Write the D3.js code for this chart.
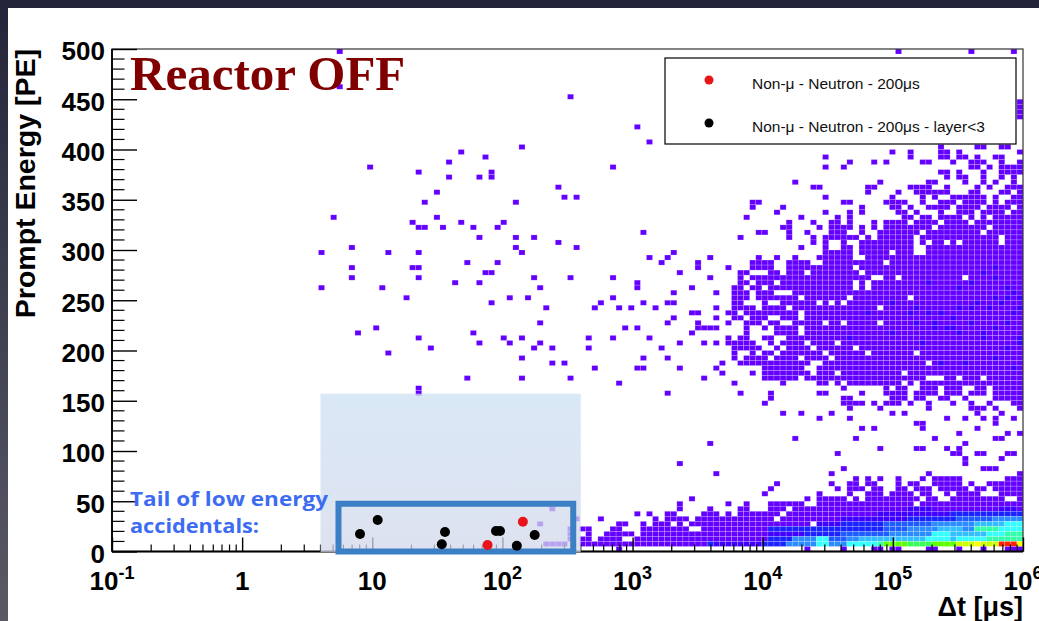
<!DOCTYPE html>
<html>
<head>
<meta charset="utf-8">
<script src="https://cdn.jsdelivr.net/npm/d3@7"></script>
<style>
  body { margin: 0; background: #2a2b3b; overflow: hidden; }
  svg { display: block; }
</style>
</head>
<body>
<svg id="chart"></svg>
<script>
// histogram binning (log10 of dt in us, prompt energy in PE)
const xLogMin = -1, xLogMax = 6, xBinCount = 150;
const yMin = 0, yMax = 500, yBinCount = 100;

// colour levels of the 2D histogram (ROOT rainbow palette)
const palette = ["#6400ff", "#3f00ff", "#1a22ff", "#1f5cff", "#2b8cff", "#33bfff", "#33ffff",
  "#33ffaa", "#33ff55", "#5cff00", "#99ff00", "#ccff00", "#ffff00", "#ff9900", "#ff2200"];

// isolated cells left of 10^2.4 us: [xBin, yBin]
const sparseCells = [
  [37,99],[37,92],[67,80],[57,79],[61,78],[55,77],[42,76],[50,75],[62,75],[55,74],[60,74],[62,74],
  [53,71],[51,69],[66,69],[36,66],[53,66],[49,65],[57,65],[64,65],[50,64],[51,64],[54,64],[59,64],
  [63,64],[60,62],[66,62],[69,62],[39,60],[66,60],[34,59],[45,59],[50,59],[67,59],[58,57],[63,57],
  [39,56],[49,56],[50,56],[61,55],[62,55],[39,54],[50,54],[69,54],[56,53],[60,53],[34,52],[44,52],
  [70,52],[48,50],[65,50],[68,50],[62,49],[71,48],[70,45],[43,44],[40,43],[59,43],[50,42],[64,42],
  [67,42],[60,41],[65,41],[70,41],[52,40],[69,40],[45,39],[67,38],[58,34],[67,34],[50,32],[50,31],
  [70,5],[71,1]
];

// filled columns per y bin, counted from xBin 72; "a-b:L" = run with colour level L
const denseStart = 72;
const denseRows = [
  [99, "57 69 76"],
  [90, "3"],
  [89, "77"], [88, "77"], [87, "77"], [86, "77"],
  [84, "14"],
  [81, "16"],
  [80, "64 70-71 74-75"],
  [79, "56 59 64-65 67 77"],
  [78, "45 59 64-65 67-68 70 73-74"],
  [77, "49 53 55 61-62 66 69-71 74 77"],
  [76, "10 45 48 69-70 72 74-77"],
  [75, "64-65 67 71 74-77"],
  [74, "65 67-68 71 74 76"],
  [73, "40 54 62-63 68 71 73 76"],
  [72, "1 43-44 52-53 59-62 65 70 72 75-77"],
  [71, "52 57 60-65 69-70 74-75 77"],
  [70, "2 4 45 56 61 63 66-71 73 76-77"],
  [69, "33-34 48-49 55-58 61 64-66 68-71 73 75-77"],
  [68, "33 38 51 56-57 59 62-65 67-70 72-75 77"],
  [67, "37 45 49 51 57-58 60 64 67-69 71-74 76-77"],
  [66, "32 41 47 49 58-59 61-62 64-67 69 71 73-77"],
  [65, "39 43 46-47 49 53 55-58 60-63 65-68 70-77"],
  [64, "38-39 44 46-49 51 53 55-62 64-71 73-77"],
  [63, "15 34-35 39 42 46-48 51 54-60 62-70 72-77"],
  [62, "31 39 43 45-50 52 54-59 61-73 75-77"],
  [61, "1 43 45 48 51-59 61 63-64 66 68-73 75-77"],
  [60, "4 41 45 48-49 51-59 62-77"],
  [59, "20 45-49 51-55 57-59 62-77"],
  [58, "16 19 26 34 37 40 44-49 52-77"],
  [57, "18 24 33-36 39-42 45-54 56-77"],
  [56, "24 29 33-36 39-49 51-72 73:2 74-77"],
  [55, "21 31-32 36-37 39-41 43-50 52-70 71:2 72-77"],
  [54, "3 10 26 31 33-52 55-56 58-67 69-72 73:2 74-77"],
  [53, "14 31-32 34-36 38-49 51 53-61 62:2 63-68 69:2 70-77"],
  [52, "14 23 30-31 33-34 36-49 51 53-66 67:2 68-74 75:2 76-77"],
  [51, "20 27 30-32 34-36 40-75 76:2 77"],
  [50, "10 30-32 34-40 42-48 50-58 60-72 73:2 74 75:2 76 77:2"],
  [49, "8 15 19-20 30-31 35 38-43 45 47 49-55 56:2 57-69 70:2 71-73 74:2 75-77"],
  [48, "7 11 13 17 27 30-33 35-38 40-53 55-59 60:2 61-66 67:2 68 69:2 70-71 72:2 73-76 77:2"],
  [47, "23-24 29-30 32-40 42-51 52:2 53-58 59:2 60-61 62:2 63 64:2 65-75 76:2 77"],
  [46, "20 27 30-31 33-35 38-40 42-65 66:2 67-77"],
  [45, "19 24 29 32-34 36-37 40-44 46-47 49-53 55-59 60:2 61-62 63:2 64-68 69:2 70-74 75:2 76-77"],
  [44, "12 14 24-27 32 35 37-40 42-62 63:2 64 65-66:2 67-72 73:2 74-77"],
  [43, "23 32 37-40 42-55 56:2 57-66 67:2 68-70 71:2 72-77"],
  [42, "6 10 16 29 31-32 35-36 39-48 49:2 50-70 71:2 72-76 77:2"],
  [41, "21 25 27 29-33 36 38-41 43-46 48-60 61:2 62-76 77:2"],
  [40, "0 6 18 30-34 37 39-42 44-49 51-74 75:2 76-77"],
  [39, "30 33 35-36 38-44 46-51 53-59 61-77"],
  [38, "15 19 30 32-35 37-40 42-45 47-72 73:2 74-77"],
  [37, "0 2 28 31-42 45-61 63 64:2 65-67 68:2 69-77"],
  [36, "7 14-15 21 27 35-41 44-75 76:2 77"],
  [35, "28 33 35-42 44-46 48-57 59-77"],
  [34, "3 25 35-40 42-61 65-66 68-70 72-77"],
  [33, "11 30 38 44-45 47 49-57 59 61-77"],
  [32, "48 55 57-58 61-63 65-67 70-71 73-77"],
  [31, "19 31 36 44-45 51 55-58 60-63 65-67 69-71 73-77"],
  [30, "36 48-49 56-58 60-61 64-65 68 73-77"],
  [29, "35 48-51 53 55-57 59 62 66 69 72 76-77"],
  [28, "49 54 62 69-71 73 77"],
  [27, "38 41 46 56 58 70 74"],
  [26, "44 49 65 68 71 73 76"],
  [25, "60-61 73"],
  [24, "51 53 61 70"],
  [23, "67 75 77"],
  [22, "40 50 63 73-74"],
  [21, "26 68"],
  [20, "54 60-61 65 67"],
  [19, "47 66-67 70-71 75-76"],
  [18, "68 74"],
  [17, "21 68"],
  [16, "48 71-73"],
  [15, "27 46 62 77"],
  [14, "50 52 54 57 61 63-67 75-77"],
  [13, "37 46 49-50 52-53 57 59-60 63-67 69 72-77"],
  [12, "36 47 49-51 53-54 57-58 60-62 64-68 70-71 73-77"],
  [11, "35 44 49 52-54 56-59 61-62 65 67-70 74-77"],
  [10, "23 42 44-48 50 52-60 62-63 66-74 77"],
  [9, "21 29 32 36-41 44-59 61-77"],
  [8, "0 21 26 31-32 36-38 40-58 59-62:2 63-73 74-76:2 77"],
  [7, "14 16 19-20 25-27 29 31-37 39-53 54-65:2 66-77:3"],
  [6, "4 8 17 19-22 24-36 38-47 48-58:2 59-66:3 67-72:4 73-77:5"],
  [5, "11-12 15 17-19 21 23-42 44-47:2 48-54:3 55-62:4 63-69:5 70-74:6 75-77:7"],
  [4, "3 5-6 10-11 15-22 25-35 36-54:3 55-58:4 59-63:5 64-67:6 68-69:5 70-73:8 74-77:7"],
  [3, "3 6 9-13 15-35 36-41:2 42-47:3 48-55:4 56-62:5 63-65:7 66-71:6 72-74:7 75-77:8"],
  [2, "3 5-6 8-11 14-35 36-39:3 40-43:5 44-45:7 46-48:4 49-50:5 51-61:6 62-65:7 66:6 67-71:7 72-77:8"],
  [1, "0-2 5-25 26:3 27-34:2 35-38:3 39-43:5 44-45:7 46-48:5 49-53:7 54:8 55-58:10 59-62:9 63-66:10 67-69:12 70:13 71-73:12 74-76:15 77:13"],
  [0, "11 42 48 53-54 56-57 62-63 67 71 75-77"]
];

// candidate events (dt in us, prompt energy in PE)
const redT = [76.9, 143.6];
const redE = [6.5, 29.6];
const blackT = [8.05, 11.0, 34.2, 36.2, 89.3, 95.8, 129, 177];
const blackE = [17.4, 31.3, 7.2, 19.4, 20.4, 20.4, 5.8, 16.4];

const yTicks = d3.range(0, 501, 50);
const yMinorTicks = d3.range(0, 501, 10).filter(v => v % 50 !== 0);
const xDecades = [-1, 0, 1, 2, 3, 4, 5, 6];
const legendLabels = ["Non-\u03bc - Neutron - 200\u03bcs", "Non-\u03bc - Neutron - 200\u03bcs - layer<3"];
const noteLines = ["Tail of low energy", "accidentals:"];

const width = 1039, height = 621;
const plot = { left: 112, right: 1023, top: 49, bottom: 551.5 };
const sans = "'Liberation Sans', Arial, sans-serif";

const svg = d3.select("#chart").attr("width", width).attr("height", height);

const defs = svg.append("defs");
const bgGrad = defs.append("linearGradient").attr("id", "bg").attr("x1", 0).attr("y1", 0).attr("x2", 0).attr("y2", 1);
bgGrad.append("stop").attr("offset", "0%").attr("stop-color", "#24253a");
bgGrad.append("stop").attr("offset", "100%").attr("stop-color", "#5a5a66");
const boxGrad = defs.append("linearGradient").attr("id", "boxfill").attr("x1", 0).attr("y1", 0).attr("x2", 0).attr("y2", 1);
boxGrad.append("stop").attr("offset", "0%").attr("stop-color", "#cde1f3");
boxGrad.append("stop").attr("offset", "100%").attr("stop-color", "#d3d8ea");

svg.append("rect").attr("width", width).attr("height", height).attr("fill", "url(#bg)");
svg.append("rect").attr("x", 8).attr("y", 8).attr("width", width - 8).attr("height", height - 8).attr("fill", "#fff");

const x = d3.scaleLog().domain([10 ** xLogMin, 10 ** xLogMax]).range([plot.left, plot.right]);
const y = d3.scaleLinear().domain([yMin, yMax]).range([plot.bottom, plot.top]);

const binLo = i => 10 ** (xLogMin + i * (xLogMax - xLogMin) / xBinCount);
const eLo = j => yMin + j * (yMax - yMin) / yBinCount;

let cells = sparseCells.map(([i, j]) => ({ i, j, level: 1 }));
denseRows.forEach(([j, spec]) => {
  spec.split(" ").filter(Boolean).forEach(tok => {
    const [range, lv] = tok.split(":");
    const [a, b] = range.split("-").map(Number);
    const end = b === undefined ? a : b;
    for (let c = a; c <= end; c++) cells.push({ i: denseStart + c, j, level: lv ? +lv : 1 });
  });
});

svg.append("g")
  .selectAll("rect")
  .data(cells)
  .join("rect")
  .attr("x", d => x(binLo(d.i)))
  .attr("y", d => y(eLo(d.j + 1)))
  .attr("width", d => x(binLo(d.i + 1)) - x(binLo(d.i)))
  .attr("height", d => y(eLo(d.j)) - y(eLo(d.j + 1)))
  .attr("fill", d => palette[d.level - 1])
  .attr("stroke", "rgba(255,255,255,0.3)")
  .attr("stroke-width", 0.6);

// frame
svg.append("rect")
  .attr("x", plot.left).attr("y", plot.top)
  .attr("width", plot.right - plot.left).attr("height", plot.bottom - plot.top)
  .attr("fill", "none").attr("stroke", "#333").attr("stroke-width", 1.2);

// y axis
const yAxis = d3.axisLeft(y).tickValues(yTicks).tickSizeInner(-25).tickSizeOuter(0).tickPadding(7);
svg.append("g")
  .attr("transform", `translate(${plot.left},0)`)
  .call(yAxis)
  .attr("font-family", sans).attr("font-size", 26).attr("font-weight", "bold")
  .call(g => g.select(".domain").remove())
  .call(g => g.selectAll("line").attr("stroke", "#000").attr("stroke-width", 1.4))
  .call(g => g.selectAll("text").attr("fill", "#000").attr("dy", "0.42em"));
svg.append("g")
  .selectAll("line")
  .data(yMinorTicks)
  .join("line")
  .attr("x1", plot.left).attr("x2", plot.left + 12.5)
  .attr("y1", d => y(d)).attr("y2", d => y(d))
  .attr("stroke", "#000").attr("stroke-width", 1.2);

// x axis
const xMinor = [];
xDecades.slice(0, -1).forEach(k => { for (let m = 2; m <= 9; m++) xMinor.push(m * 10 ** k); });
svg.append("g")
  .attr("transform", `translate(0,${plot.bottom})`)
  .call(d3.axisBottom(x).tickValues(xDecades.map(k => 10 ** k)).tickSizeInner(-14).tickSizeOuter(0).tickFormat(() => ""))
  .call(g => g.select(".domain").remove())
  .call(g => g.selectAll("line").attr("stroke", "#000").attr("stroke-width", 1.4));
svg.append("g")
  .selectAll("line")
  .data(xMinor)
  .join("line")
  .attr("x1", d => x(d)).attr("x2", d => x(d))
  .attr("y1", plot.bottom).attr("y2", plot.bottom - 7)
  .attr("stroke", "#000").attr("stroke-width", 1.2);

svg.append("line")
  .attr("x1", plot.left).attr("x2", plot.right).attr("y1", plot.bottom).attr("y2", plot.bottom)
  .attr("stroke", "#000").attr("stroke-width", 1.8);
svg.append("line")
  .attr("x1", plot.left).attr("x2", plot.left).attr("y1", plot.top).attr("y2", plot.bottom)
  .attr("stroke", "#000").attr("stroke-width", 1.8);

const xLabels = svg.append("g")
  .attr("font-family", sans).attr("font-weight", "bold").attr("text-anchor", "middle")
  .selectAll("text")
  .data(xDecades)
  .join("text")
  .attr("x", d => x(10 ** d))
  .attr("y", 590)
  .attr("font-size", 26);
xLabels.append("tspan").text(d => (d === 0 ? "1" : "10"));
xLabels.filter(d => d !== 0 && d !== 1)
  .append("tspan").attr("dy", -11).attr("font-size", 18).text(d => d);

// axis titles
svg.append("text")
  .attr("transform", `translate(35,${plot.top}) rotate(-90)`)
  .attr("text-anchor", "end")
  .attr("font-family", sans).attr("font-weight", "bold").attr("font-size", 28.5)
  .text("Prompt Energy [PE]");
svg.append("text")
  .attr("x", plot.right).attr("y", 616)
  .attr("text-anchor", "end")
  .attr("font-family", sans).attr("font-weight", "bold").attr("font-size", 27)
  .text("\u0394t [\u03bcs]");

// highlighted region
svg.append("rect")
  .attr("x", x(4)).attr("y", y(157)).attr("width", x(400) - x(4)).attr("height", y(-0.5) - y(157))
  .attr("fill", "url(#boxfill)").attr("opacity", 0.75);
svg.append("rect")
  .attr("x", x(5.5)).attr("y", y(47.5)).attr("width", x(350) - x(5.5)).attr("height", y(0) - y(47.5))
  .attr("fill", "none").attr("stroke", "#3b7fc4").attr("stroke-width", 6);

// candidate markers
svg.append("g")
  .selectAll("circle")
  .data(blackT.map((t, k) => [t, blackE[k]]))
  .join("circle")
  .attr("cx", d => x(d[0])).attr("cy", d => y(d[1])).attr("r", 5)
  .attr("fill", "#000");
svg.append("g")
  .selectAll("circle")
  .data(redT.map((t, k) => [t, redE[k]]))
  .join("circle")
  .attr("cx", d => x(d[0])).attr("cy", d => y(d[1])).attr("r", 5)
  .attr("fill", "#e8141a");

// annotations
svg.append("text")
  .attr("x", 130).attr("y", 90)
  .attr("font-family", "'Liberation Serif', 'Times New Roman', serif")
  .attr("font-weight", "bold").attr("font-size", 49).attr("fill", "#800000")
  .text("Reactor OFF");
const noteWidths = [198, 129];
svg.append("g")
  .attr("font-family", "'Open Sans', Lato, sans-serif").attr("font-weight", "bold")
  .attr("font-size", 20).attr("fill", "#3d6cf2")
  .selectAll("text")
  .data(noteLines)
  .join("text")
  .attr("x", 130).attr("y", (d, k) => 506 + k * 27)
  .attr("textLength", (d, k) => noteWidths[k]).attr("lengthAdjust", "spacingAndGlyphs")
  .text(d => d);

// legend
const legend = svg.append("g");
legend.append("rect")
  .attr("x", 665).attr("y", 58).attr("width", 351).attr("height", 86)
  .attr("fill", "#fff").attr("stroke", "#000").attr("stroke-width", 1.2);
const legendColors = ["#e8141a", "#000"];
legendLabels.forEach((label, k) => {
  legend.append("circle").attr("cx", 709).attr("cy", 80 + k * 43).attr("r", 4.5).attr("fill", legendColors[k]);
  legend.append("text")
    .attr("x", 752).attr("y", 89 + k * 43)
    .attr("font-family", sans).attr("font-size", 15.5).attr("fill", "#111")
    .text(label);
});
</script>
</body>
</html>
